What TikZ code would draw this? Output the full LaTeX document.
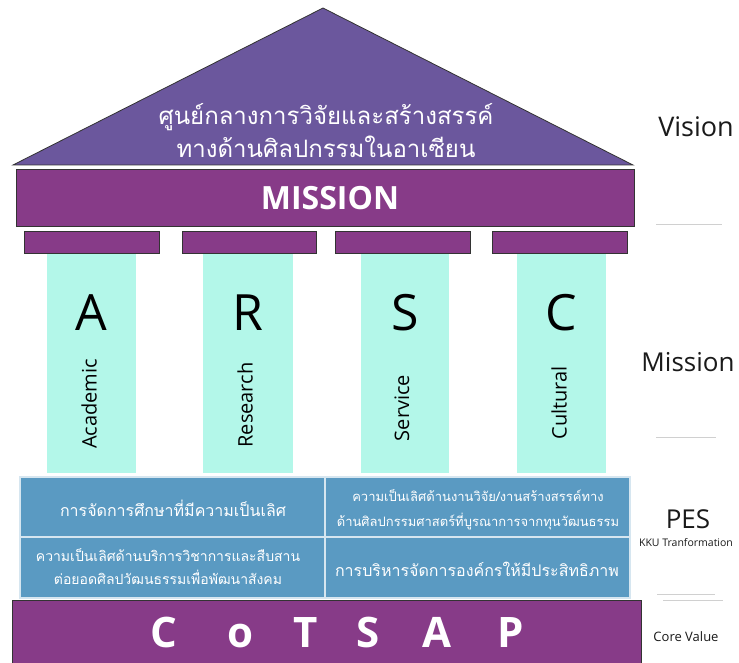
\documentclass[tikz,border=0pt]{standalone}
\usepackage{fontspec}
\setmainfont{Open Sans}
\newfontfamily\thai[Script=Thai]{Loma}
\definecolor{roofc}{HTML}{6B579D}
\definecolor{bandc}{HTML}{873B88}
\definecolor{mintc}{HTML}{B3F7E9}
\definecolor{pesc}{HTML}{5A9AC2}
\definecolor{edgec}{HTML}{333333}
\definecolor{rulec}{HTML}{D0D0D0}
\definecolor{inkc}{HTML}{1A1A1A}
\begin{document}
\begin{tikzpicture}[x=1pt,y=-1pt,
  edged/.style={draw=edgec,line width=0.8pt},
  capbox/.style={edged,fill=bandc},
  pillar/.style={fill=mintc},
  pesbox/.style={fill=pesc,draw=white!75!pesc,line width=1.2pt},
  bigletter/.style={text=black,font=\fontsize{50}{50}\selectfont},
  vertword/.style={text=black,rotate=90,font=\fontsize{20}{20}\selectfont},
  thaiw/.style={text=white,align=center},
  coreletter/.style={text=white,anchor=base,font=\bfseries\fontsize{42}{42}\selectfont},
  sidelabel/.style={text=inkc},
  sideline/.style={draw=rulec,line width=0.8pt}]
\useasboundingbox (0,0) rectangle (739,663);
\fill[white] (0,0) rectangle (739,663);
% roof
\draw[edged,fill=roofc] (13,165) -- (323,8) -- (633,165) -- cycle;
\node[thaiw,font=\thai\fontsize{24}{33}\selectfont] (vision) at (326,131)
  {ศูนย์กลางการวิจัยและสร้างสรรค์\\ทางด้านศิลปกรรมในอาเซียน};
% mission band
\draw[edged,fill=bandc] (16,169) rectangle (634,226);
\node[text=white,font=\bfseries\fontsize{32}{32}\selectfont] (mission) at (330,198) {MISSION};
% capitals
\draw[capbox] (24,231) rectangle (159,253);
\draw[capbox] (182,231) rectangle (316,253);
\draw[capbox] (335,231) rectangle (470,253);
\draw[capbox] (492,231) rectangle (627,253);
% pillars
\fill[pillar] (47,254) rectangle (136,473);
\fill[pillar] (203,254) rectangle (293,473);
\fill[pillar] (361,254) rectangle (449,473);
\fill[pillar] (517,254) rectangle (606,473);
\node[bigletter] (lA) at (91,313) {A};
\node[bigletter] (lR) at (248,313) {R};
\node[bigletter] (lS) at (405,313) {S};
\node[bigletter] (lC) at (561,313) {C};
\node[vertword] (wA) at (89,404) {Academic};
\node[vertword] (wR) at (245,405) {Research};
\node[vertword] (wS) at (402,408) {Service};
\node[vertword] (wC) at (559,403) {Cultural};
% PES boxes
\draw[pesbox] (20,477) rectangle (325,537);
\draw[pesbox] (325,477) rectangle (630,537);
\draw[pesbox] (20,537) rectangle (325,598);
\draw[pesbox] (325,537) rectangle (630,598);
\node[thaiw,font=\thai\fontsize{16}{22}\selectfont] (p1) at (173,508)
  {การจัดการศึกษาที่มีความเป็นเลิศ};
\node[thaiw,font=\thai\fontsize{13}{25}\selectfont] (p2) at (478,510)
  {ความเป็นเลิศด้านงานวิจัย/งานสร้างสรรค์ทาง\\ด้านศิลปกรรมศาสตร์ที่บูรณาการจากทุนวัฒนธรรม};
\node[thaiw,font=\thai\fontsize{14}{23}\selectfont] (p3) at (168,567)
  {ความเป็นเลิศด้านบริการวิชาการและสืบสาน\\ต่อยอดศิลปวัฒนธรรมเพื่อพัฒนาสังคม};
\node[thaiw,font=\thai\fontsize{16}{22}\selectfont] (p4) at (477,569)
  {การบริหารจัดการองค์กรให้มีประสิทธิภาพ};
% core value band
\draw[edged,fill=bandc] (12,600) rectangle (641,670);
\node[coreletter] (c1) at (164,647) {C};
\node[coreletter] (c2) at (240,647) {o};
\node[coreletter] (c3) at (306,647) {T};
\node[coreletter] (c4) at (368,647) {S};
\node[coreletter] (c5) at (437,647) {A};
\node[coreletter] (c6) at (511,647) {P};
% side labels
\node[sidelabel,font=\fontsize{27}{27}\selectfont] (sv) at (696,127) {Vision};
\node[sidelabel,font=\fontsize{26}{26}\selectfont] (sm) at (688,362) {Mission};
\node[sidelabel,font=\fontsize{26}{26}\selectfont] (sp) at (688,519) {PES};
\node[sidelabel,font=\fontsize{10.5}{11}\selectfont] (sk) at (686,543) {KKU Tranformation};
\node[sidelabel,font=\fontsize{13}{13}\selectfont] (sc) at (686,637) {Core Value};
\draw[sideline] (656,224) -- (722,224);
\draw[sideline] (656,437) -- (716,437);
\draw[sideline] (657,594) -- (715,594);
\draw[sideline] (663,600) -- (723,600);
\end{tikzpicture}
\end{document}
